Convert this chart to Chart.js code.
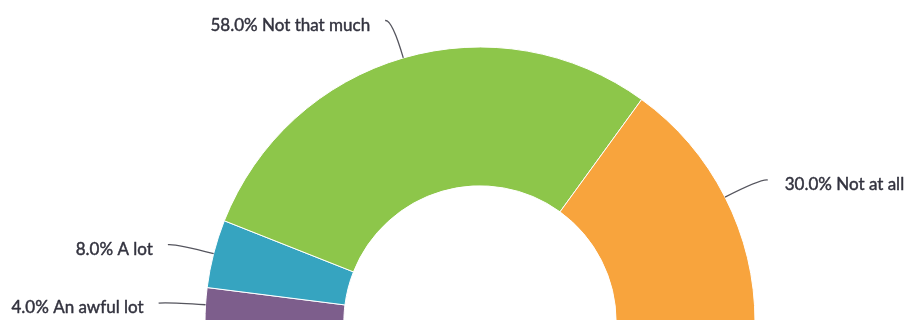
<!DOCTYPE html>
<html>
<head>
<meta charset="utf-8">
<script src="https://cdn.jsdelivr.net/npm/chart.js@4/dist/chart.umd.min.js"></script>
<style>
  html, body { margin: 0; padding: 0; background: #ffffff; overflow: hidden; }
  #wrap { width: 906px; height: 320px; overflow: hidden; }
</style>
</head>
<body>
<div id="wrap"><canvas id="chart" width="906" height="330"></canvas></div>
<script>
// Answers, in drawing order from the left end of the half ring
const categories = ['An awful lot', 'A lot', 'Not that much', 'Not at all'];
const shares = [4, 8, 58, 30];
const colors = ['#7d5e8c', '#36a4c0', '#8dc64a', '#f8a43d'];

// Percentage labels with curved leader lines
const leaderLabels = {
  id: 'leaderLabels',
  afterDatasetsDraw(chart) {
    const ctx = chart.ctx;
    const meta = chart.getDatasetMeta(0);
    ctx.save();
    ctx.font = '17px Lato, "Open Sans", sans-serif';
    meta.data.forEach((arc, i) => {
      const p = arc.getProps(['x', 'y', 'startAngle', 'endAngle', 'outerRadius'], true);
      const mid = (p.startAngle + p.endAngle) / 2;
      const cx = Math.cos(mid), cy = Math.sin(mid);
      const side = cx >= 0 ? 1 : -1;
      const r = p.outerRadius;
      const x0 = p.x + cx * r, y0 = p.y + cy * r;
      const xc = p.x + cx * (r + 40), yc = p.y + cy * (r + 40);
      const xe = xc + side * 7, ye = yc + 1;

      ctx.beginPath();
      ctx.moveTo(x0, y0);
      ctx.quadraticCurveTo(xc, yc, xe, ye);
      ctx.strokeStyle = '#55555e';
      ctx.lineWidth = 1.3;
      ctx.stroke();

      const text = shares[i].toFixed(1) + '% ' + categories[i];
      const tx = side > 0 ? xe + 17 : xe - 15;
      ctx.textAlign = side > 0 ? 'left' : 'right';
      ctx.textBaseline = 'alphabetic';
      ctx.fillStyle = '#33333f';
      ctx.strokeStyle = '#33333f';
      ctx.lineWidth = 0.45;
      ctx.lineJoin = 'round';
      ctx.fillText(text, tx, ye + 10);
      ctx.strokeText(text, tx, ye + 10);
    });
    ctx.restore();
  }
};

new Chart(document.getElementById('chart'), {
  type: 'doughnut',
  data: {
    labels: categories,
    datasets: [{
      data: shares,
      backgroundColor: colors,
      borderColor: '#ffffff',
      borderWidth: 1,
      hoverOffset: 0
    }]
  },
  options: {
    responsive: false,
    animation: false,
    rotation: -90,
    circumference: 180,
    radius: 275,
    cutout: '49.5%',
    layout: { padding: { top: 47, bottom: 8, left: 54, right: 0 } },
    plugins: {
      legend: { display: false },
      tooltip: { enabled: false }
    }
  },
  plugins: [leaderLabels]
});
</script>
</body>
</html>
